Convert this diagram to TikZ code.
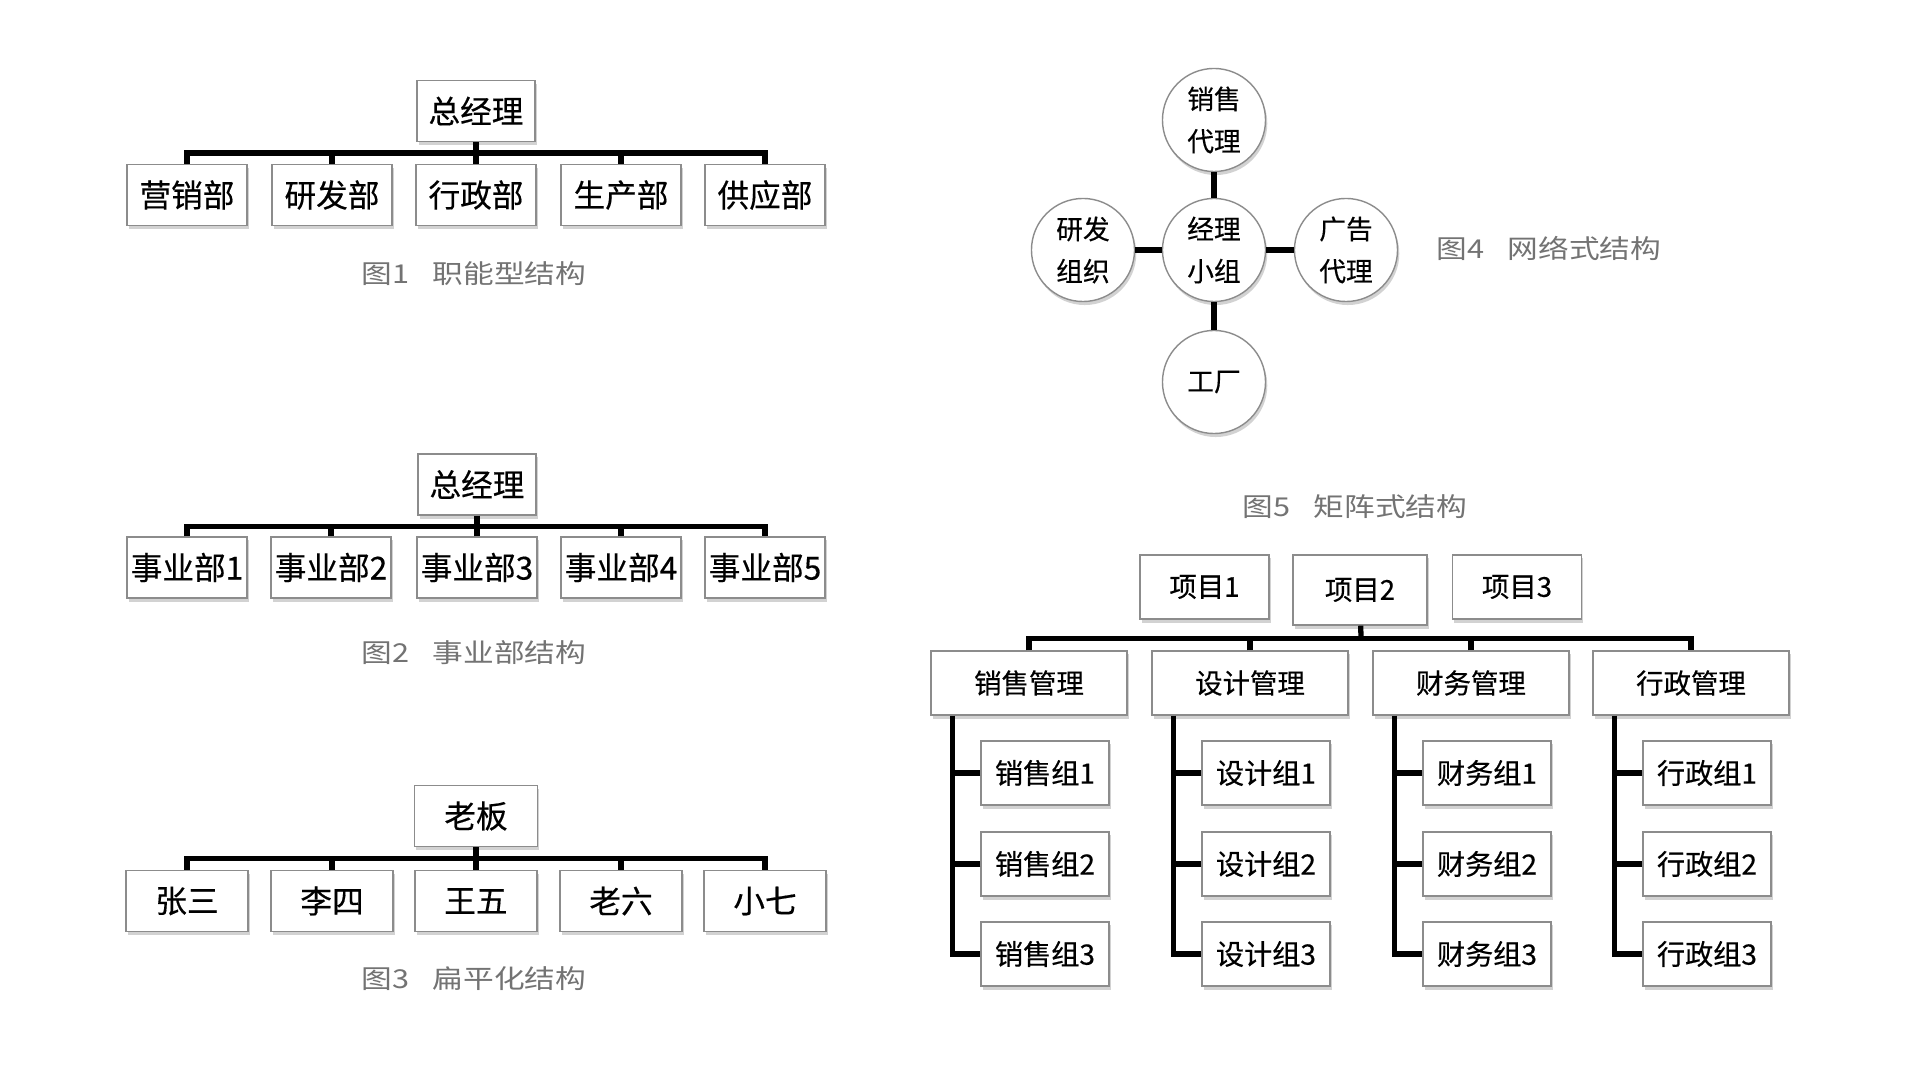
\documentclass[tikz,border=0pt]{standalone}
\usepackage{fontspec}
\setmainfont{Noto Sans CJK SC}[FakeBold=0.4]
\newfontfamily\capfont[FakeStretch=1.18]{Noto Sans CJK SC}
\usepackage{tikz}
\usetikzlibrary{shadows}
\tikzset{dept/.style = {draw=black!45, fill=white, inner sep=0,
                        minimum width=1.2cm, minimum height=0.61cm,
                        drop shadow={shadow xshift=0.5pt, shadow yshift=-1pt, opacity=0.35},
                        font=\fontsize{9}{11}\selectfont}}
\tikzset{team/.style = {circle, draw=black!45, fill=white, inner sep=0, align=center,
                        minimum size=1.03cm,
                        drop shadow={shadow xshift=0.5pt, shadow yshift=-1pt, opacity=0.35},
                        font=\fontsize{7.6}{12}\selectfont}}
\tikzset{proj/.style = {dept, minimum width=1.29cm, minimum height=0.64cm,
                        font=\fontsize{7.8}{10}\selectfont}}
\tikzset{mgr/.style = {dept, minimum width=1.96cm, minimum height=0.64cm,
                       font=\fontsize{7.8}{10}\selectfont}}
\tikzset{grp/.style = {dept, minimum width=1.28cm, minimum height=0.64cm,
                       font=\fontsize{8}{10}\selectfont}}
\tikzset{bus/.style = {line width=1.7pt}}
\tikzset{link/.style = {line width=1.5pt}}
\tikzset{caption/.style = {text=black!55, inner sep=0, font=\capfont\fontsize{7.4}{9}\selectfont}}

\begin{document}
\begin{tikzpicture}[x=0.01cm, y=-0.01cm]
    \fill [white] (0, 0) rectangle (1920, 1080);
    \useasboundingbox (0, 0) rectangle (1920, 1080);

    \node [dept, minimum width=1.18cm] (0) at (476, 111) {总经理};
    \node [dept] (1) at (187, 195) {营销部};
    \node [dept] (2) at (332, 195) {研发部};
    \node [dept] (3) at (476, 195) {行政部};
    \node [dept] (4) at (621, 195) {生产部};
    \node [dept] (5) at (765, 195) {供应部};
    \coordinate (j) at (476, 153.5);

    \draw [bus] (0) -- (j);
    \draw [bus] (1) |- (j) -| (5);
    \draw [bus] (2) -- (2 |- j);
    \draw [bus] (3) -- (3 |- j);
    \draw [bus] (4) -- (4 |- j);

    \node [caption] (c) at (474, 274) {图1\hspace{0.9em}职能型结构};
    \begin{scope}[shift={(0, 374)}, every node/.append style={font=\fontsize{8.4}{10}\selectfont}]
      \node [dept, minimum width=1.18cm] (0) at (477, 110.5) {总经理};
      \node [dept] (1) at (187, 193.5) {事业部1};
      \node [dept] (2) at (331, 193.5) {事业部2};
      \node [dept] (3) at (477, 193.5) {事业部3};
      \node [dept] (4) at (621, 193.5) {事业部4};
      \node [dept] (5) at (765, 193.5) {事业部5};
      \coordinate (j) at (477, 152.5);

      \draw [bus] (0) -- (j);
      \draw [bus] (1) |- (j) -| (5);
      \draw [bus] (2) -- (2 |- j);
      \draw [bus] (3) -- (3 |- j);
      \draw [bus] (4) -- (4 |- j);

      \node [caption] (c) at (474, 278.5) {图2\hspace{0.9em}事业部结构};
    \end{scope}
    \begin{scope}[shift={(0, 706)}, every node/.append style={font=\fontsize{9.4}{11}\selectfont}]
      \node [dept, minimum width=1.23cm] (0) at (476, 110) {老板};
      \node [dept, minimum width=1.22cm] (1) at (187, 195) {张三};
      \node [dept, minimum width=1.22cm] (2) at (332, 195) {李四};
      \node [dept, minimum width=1.22cm] (3) at (476, 195) {王五};
      \node [dept, minimum width=1.22cm] (4) at (621, 195) {老六};
      \node [dept, minimum width=1.22cm] (5) at (765, 195) {小七};
      \coordinate (j) at (476, 152.5);

      \draw [bus] (0) -- (j);
      \draw [bus] (1) |- (j) -| (5);
      \draw [bus] (2) -- (2 |- j);
      \draw [bus] (3) -- (3 |- j);
      \draw [bus] (4) -- (4 |- j);

      \node [caption] (c) at (474, 273) {图3\hspace{0.9em}扁平化结构};
    \end{scope}

    \node [team] (m) at (1214, 250) {经理\\小组};
    \node [team] (t) at (1214, 120) {销售\\代理};
    \node [team] (l) at (1083, 250) {研发\\组织};
    \node [team] (r) at (1346, 250) {广告\\代理};
    \node [team] (b) at (1214, 382) {工厂};

    \draw [link] (m) -- (t);
    \draw [link] (m) -- (l);
    \draw [link] (m) -- (r);
    \draw [link] (m) -- (b);

    \node [caption, anchor=west] (c4) at (1436, 248) {图4\hspace{0.9em}网络式结构};

    \node [caption] (c5) at (1355, 507) {图5\hspace{0.9em}矩阵式结构};
    \node [proj] (p1) at (1204.5, 587) {项目1};
    \node [proj, minimum width=1.34cm, minimum height=0.7cm] (p2) at (1360, 590) {项目2};
    \node [proj] (p3) at (1517, 587) {项目3};
    \coordinate (k) at (1361, 638.5);

    \node [mgr] (s) at (1029, 683) {销售管理};
    \node [mgr] (d) at (1250, 683) {设计管理};
    \node [mgr] (f) at (1471, 683) {财务管理};
    \node [mgr] (x) at (1691, 683) {行政管理};

    \draw [link] (p2) -- (k);
    \draw [link] (s) |- (k) -| (x);
    \draw [link] (d) -- (d |- k);
    \draw [link] (f) -- (f |- k);

    \node [grp] (s1) at (1045, 773) {销售组1};
    \node [grp] (s2) at (1045, 864) {销售组2};
    \node [grp] (s3) at (1045, 954) {销售组3};
    \draw [link] ([xshift=0.22cm]s.south west) |- (s3);
    \draw [link] (s1.west) -- ++(-28, 0);
    \draw [link] (s2.west) -- ++(-28, 0);

    \node [grp] (d1) at (1266, 773) {设计组1};
    \node [grp] (d2) at (1266, 864) {设计组2};
    \node [grp] (d3) at (1266, 954) {设计组3};
    \draw [link] ([xshift=0.22cm]d.south west) |- (d3);
    \draw [link] (d1.west) -- ++(-28, 0);
    \draw [link] (d2.west) -- ++(-28, 0);

    \node [grp] (f1) at (1487, 773) {财务组1};
    \node [grp] (f2) at (1487, 864) {财务组2};
    \node [grp] (f3) at (1487, 954) {财务组3};
    \draw [link] ([xshift=0.22cm]f.south west) |- (f3);
    \draw [link] (f1.west) -- ++(-28, 0);
    \draw [link] (f2.west) -- ++(-28, 0);

    \node [grp] (x1) at (1707, 773) {行政组1};
    \node [grp] (x2) at (1707, 864) {行政组2};
    \node [grp] (x3) at (1707, 954) {行政组3};
    \draw [link] ([xshift=0.22cm]x.south west) |- (x3);
    \draw [link] (x1.west) -- ++(-28, 0);
    \draw [link] (x2.west) -- ++(-28, 0);
\end{tikzpicture}
\end{document}
